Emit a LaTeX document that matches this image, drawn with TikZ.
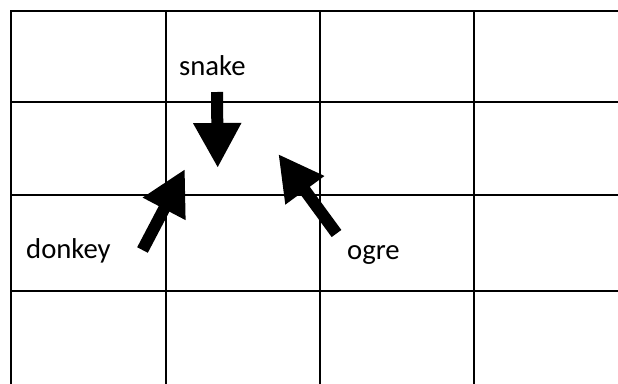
\documentclass[tikz,border=0pt]{standalone}
\usepackage{fontspec}
\setmainfont{Carlito}
\usetikzlibrary{arrows.meta}
\begin{document}
\begin{tikzpicture}[x=1pt,y=-1pt,
  gridline/.style={line width=2pt,line cap=rect},
  label/.style={inner sep=0pt,anchor=base west,font=\fontsize{28.7}{32}\selectfont},
  fatarrow/.style={line width=12pt,-{Triangle[length=45pt,width=45pt]}}]
  \useasboundingbox (0,0) rectangle (618,383);
  % grid: open on the right and at the bottom
  \foreach \gx in {11,166,320,474} \draw[gridline] (\gx,11) -- (\gx,384);
  \foreach \gy in {11,101.5,194.5,291} \draw[gridline] (11,\gy) -- (619,\gy);
  % labels
  \node[label] (snake) at (179,75) {snake};
  \node[label] (donkey) at (26,258.5) {donkey};
  \node[label] (ogre) at (347,259) {ogre};
  % arrow ends
  \coordinate (snakeTail) at (217,92);
  \coordinate (snakeTip) at (217.7,168);
  \coordinate (donkeyTail) at (142.5,250);
  \coordinate (donkeyTip) at (185,169);
  \coordinate (ogreTail) at (336.5,233.5);
  \coordinate (ogreTip) at (278.3,154);
  % arrows
  \draw[fatarrow] (snakeTail) -- (snakeTip);
  \draw[fatarrow] (donkeyTail) -- (donkeyTip);
  \draw[fatarrow] (ogreTail) -- (ogreTip);
\end{tikzpicture}
\end{document}
